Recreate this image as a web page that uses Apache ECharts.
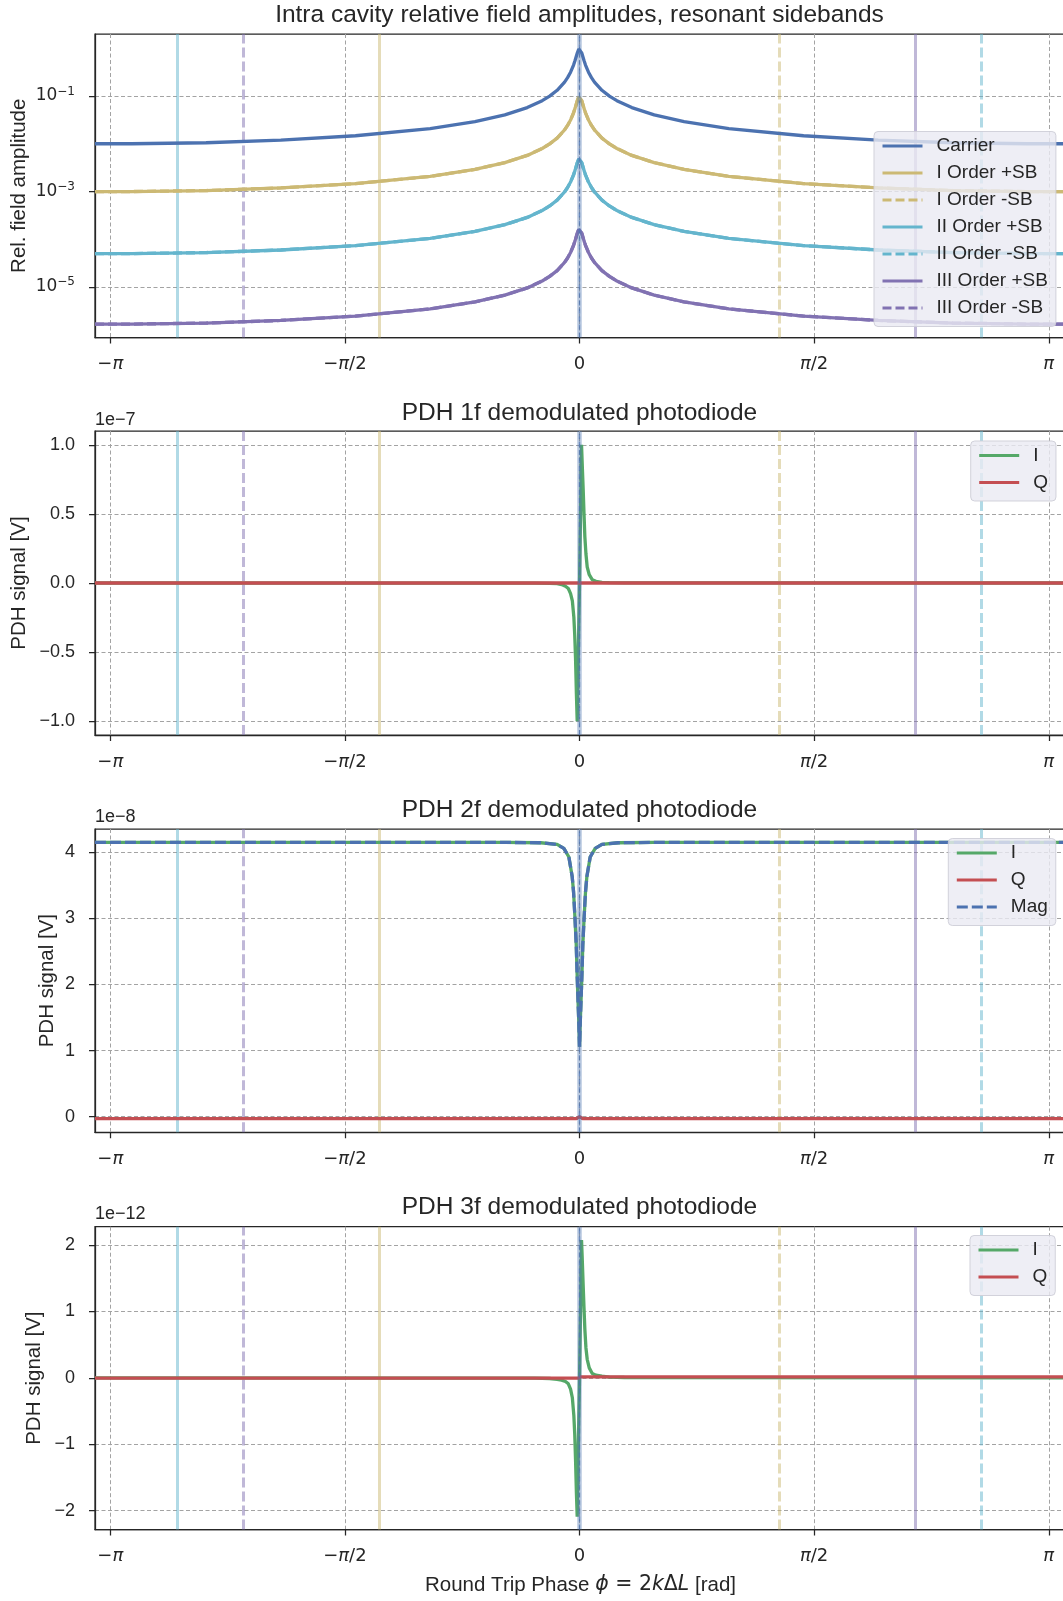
<!DOCTYPE html>
<html><head><meta charset="utf-8">
<script src="https://cdn.jsdelivr.net/npm/echarts@6/dist/echarts.min.js"></script>
<style>html,body{margin:0;padding:0;background:#fff}#c{width:1063px;height:1601px}</style>
</head><body><div id="c"></div>
<script>
// ---------------- DATA ----------------
// Panel 1: intra cavity relative field amplitudes (log scale)
const PHASE_TOP = [-3.244,-3.0,-2.5,-2.0,-1.5,-1.0,-0.7,-0.5,-0.35,-0.25,-0.2,-0.15,-0.1,-0.08,-0.06,-0.04,-0.03,-0.015,-0.005,0,
                   0.005,0.015,0.03,0.04,0.06,0.08,0.1,0.15,0.2,0.25,0.35,0.5,0.7,1.0,1.5,2.0,2.5,3.0,3.257];
const CARRIER = [0.0100,0.0100,0.0105,0.0119,0.0147,0.0208,0.0291,0.0404,0.0573,0.0800,0.0997,0.132,0.196,0.243,0.316,0.447,0.555,0.80,0.97,1.0,
                 0.97,0.80,0.555,0.447,0.316,0.243,0.196,0.132,0.0997,0.0800,0.0573,0.0404,0.0291,0.0208,0.0147,0.0119,0.0105,0.0100,0.0100];
const ORDER1_SB = [0.000995,0.000995,0.001045,0.001184,0.001463,0.00207,0.0029,0.00402,0.0057,0.00796,0.00992,0.01313,0.0195,0.0242,0.03144,0.04448,0.0552,0.0796,0.0965,0.0995,
                   0.0965,0.0796,0.0552,0.04448,0.03144,0.0242,0.0195,0.01313,0.00992,0.00796,0.0057,0.00402,0.0029,0.00207,0.001463,0.001184,0.001045,0.000995,0.000995];
const ORDER2_SB = [4.98e-5,4.98e-5,5.23e-5,5.93e-5,7.32e-5,1.036e-4,1.449e-4,2.012e-4,2.854e-4,3.984e-4,4.965e-4,6.57e-4,9.76e-4,1.21e-3,1.574e-3,2.226e-3,2.764e-3,3.984e-3,4.83e-3,4.98e-3,
                   4.83e-3,3.984e-3,2.764e-3,2.226e-3,1.574e-3,1.21e-3,9.76e-4,6.57e-4,4.965e-4,3.984e-4,2.854e-4,2.012e-4,1.449e-4,1.036e-4,7.32e-5,5.93e-5,5.23e-5,4.98e-5,4.98e-5];
const ORDER3_SB = [1.66e-6,1.66e-6,1.743e-6,1.975e-6,2.44e-6,3.453e-6,4.83e-6,6.71e-6,9.51e-6,1.328e-5,1.655e-5,2.19e-5,3.254e-5,4.03e-5,5.25e-5,7.42e-5,9.21e-5,1.328e-4,1.61e-4,1.66e-4,
                   1.61e-4,1.328e-4,9.21e-5,7.42e-5,5.25e-5,4.03e-5,3.254e-5,2.19e-5,1.655e-5,1.328e-5,9.51e-6,6.71e-6,4.83e-6,3.453e-6,2.44e-6,1.975e-6,1.743e-6,1.66e-6,1.66e-6];
const TOP_NAMES = ['Carrier','I Order +SB','I Order -SB','II Order +SB','II Order -SB','III Order +SB','III Order -SB'];

// Resonance markers (phase, rad)
const CARRIER_X = 0;
const RES_NAMES = ['I +SB','I -SB','II +SB','II -SB','III +SB','III -SB'];
const RES_X = [-1.343, 1.343, -2.690, 2.690, 2.250, -2.250];

// Panel 2: PDH 1f (units of 1e-7 V)
const PHASE_1F = [-3.244,-0.3,-0.2,-0.15,-0.12,-0.094,-0.075,-0.06,-0.048,-0.038,-0.032,-0.0268,-0.021,-0.0156,0,
                  0.0134,0.018,0.0246,0.03,0.0357,0.043,0.0514,0.065,0.085,0.11,0.15,0.2,0.3,3.257];
const I_1F = [0,-0.001,-0.002,-0.005,-0.011,-0.024,-0.04,-0.077,-0.13,-0.247,-0.38,-0.54,-0.8,-1.0,0,
              1.0,0.86,0.673,0.5,0.334,0.21,0.116,0.06,0.024,0.012,0.005,0.002,0.001,0];
const PHASE_Q1F = [-3.244, 3.257];
const Q_1F = [0, 0];

// Panel 3: PDH 2f (units of 1e-8 V)
const PHASE_2F = [-3.244,-0.5,-0.26,-0.15,-0.105,-0.0714,-0.049,-0.04,-0.031,-0.022,-0.0156,-0.009,-0.0045,0,
                  0.0045,0.009,0.0156,0.022,0.031,0.04,0.049,0.0714,0.105,0.15,0.26,0.5,3.257];
const I_2F = [4.15,4.15,4.145,4.12,4.06,3.93,3.63,3.4,3.03,2.6,2.12,1.68,1.41,1.06,
              1.41,1.68,2.12,2.6,3.03,3.4,3.63,3.93,4.06,4.12,4.145,4.15,4.15];
const MAG_2F = [4.15,4.15,4.145,4.12,4.06,3.93,3.63,3.4,3.03,2.6,2.12,1.68,1.41,1.06,
                1.41,1.68,2.12,2.6,3.03,3.4,3.63,3.93,4.06,4.12,4.145,4.15,4.15];
const PHASE_Q2F = [-3.244,-0.02,0,0.02,3.257];
const Q_2F = [-0.03,-0.03,0,-0.03,-0.03];

// Panel 4: PDH 3f (units of 1e-12 V)
const PHASE_3F = [-3.244,-0.3,-0.2,-0.15,-0.12,-0.094,-0.075,-0.06,-0.048,-0.038,-0.032,-0.0268,-0.021,-0.0156,0,
                  0.0134,0.018,0.0246,0.03,0.0357,0.043,0.0514,0.065,0.085,0.11,0.15,0.2,0.3,3.257];
const I_3F = [0,-0.005,-0.01,-0.022,-0.035,-0.055,-0.09,-0.17,-0.3,-0.57,-0.85,-1.22,-1.72,-2.09,0,
              2.075,1.8,1.38,1.05,0.73,0.45,0.28,0.15,0.065,0.04,0.025,0.012,0.005,0];
const PHASE_Q3F = [-3.244,-0.01,0.01,3.257];
const Q_3F = [-0.005,-0.005,0.015,0.015];

// Ticks
const X_TICKS = [-Math.PI, -Math.PI/2, 0, Math.PI/2, Math.PI];
const X_TICK_LABELS = ['−{i|π}', '−{i|π}/2', '0', '{i|π}/2', '{i|π}'];
const Y1_TICKS = [1e-5, 1e-3, 1e-1];
const Y1_TICK_LABELS = ['10{s|−5}', '10{s|−3}', '10{s|−1}'];
const Y2_TICKS = [-1, -0.5, 0, 0.5, 1];
const Y2_TICK_LABELS = ['−1.0', '−0.5', '0.0', '0.5', '1.0'];
const Y3_TICKS = [0, 1, 2, 3, 4];
const Y3_TICK_LABELS = ['0', '1', '2', '3', '4'];
const Y4_TICKS = [-2, -1, 0, 1, 2];
const Y4_TICK_LABELS = ['−2', '−1', '0', '1', '2'];
const OFFSET_LABELS = ['1e−7', '1e−8', '1e−12'];
const PANEL_TITLES = ['Intra cavity relative field amplitudes, resonant sidebands',
  'PDH 1f demodulated photodiode', 'PDH 2f demodulated photodiode', 'PDH 3f demodulated photodiode'];
const X_NAME = 'Round Trip Phase {i|ϕ}{m| = 2}{i|k}{m|Δ}{i|L} [rad]';

// ---------------- STYLE / LAYOUT ----------------
const FONT = 'Liberation Sans';
const MATH = 'DejaVu Sans';
const TXT = '#262626';
const C = {blue:'#4C72B0', green:'#55A868', red:'#C44E52', purple:'#8172B2', yellow:'#CCB974', cyan:'#64B5CD'};
const GRIDS = [{top:34, height:303.5},{top:431, height:304},{top:829, height:303.3},{top:1226.7, height:302.9}];
const YRANGE = [[8.68e-7, 1.998],[-1.1, 1.1],[-0.236, 4.353],[-2.285, 2.276]];
const YNAME_GAP = [65, 65, 37.5, 50];
const XMIN = -3.244, XMAX = 3.257;
const LW = 3.3;

function pairs(xs, ys){ return xs.map((x,i)=>[x, ys[i]]); }
function fmt(ticks, labels){
  return function(v){
    for (let i=0;i<ticks.length;i++){
      if (Math.abs(ticks[i]-v) <= Math.abs(ticks[i])*1e-6 + 1e-9) return labels[i];
    }
    return '';
  };
}

const axisLineStyle = {color: TXT, width: 1.25};
const splitStyle = {color:'#a3a3a3', width:1, type:[4,2.5]};
const labelBase = {color: TXT, fontSize: 18, fontFamily: FONT};

const grid = GRIDS.map(g => ({left:95, right:-3, top:g.top, height:g.height, show:true,
  borderColor: TXT, borderWidth:1.25, backgroundColor:'transparent', containLabel:false, outerBoundsMode:'none'}));

const xAxis = GRIDS.map((g,i) => ({
  type:'value', gridIndex:i, min:XMIN, max:XMAX,
  axisLine:{show:true, onZero:false, lineStyle:axisLineStyle},
  axisTick:{show:true, length:6, lineStyle:axisLineStyle, customValues:X_TICKS},
  axisLabel:{color:TXT, fontSize:18, fontFamily:MATH, margin:18, customValues:X_TICKS, formatter:fmt(X_TICKS, X_TICK_LABELS),
    rich:{i:{fontStyle:'italic', fontFamily:MATH, fontSize:18, color:TXT}}},
  splitLine:{show:true, lineStyle:splitStyle},
  name: i===3 ? X_NAME : '',
  nameLocation:'middle', nameGap:45, nameMoveOverlap:false,
  nameTextStyle:{color:TXT, fontSize:20.5, fontFamily:FONT,
    rich:{i:{fontStyle:'italic', fontFamily:MATH, fontSize:20.5, color:TXT},
          m:{fontFamily:MATH, fontSize:20.5, color:TXT}}}
}));

const YT = [[Y1_TICKS,Y1_TICK_LABELS],[Y2_TICKS,Y2_TICK_LABELS],[Y3_TICKS,Y3_TICK_LABELS],[Y4_TICKS,Y4_TICK_LABELS]];
const Y_NAMES = ['Rel. field amplitude','PDH signal [V]','PDH signal [V]','PDH signal [V]'];
const yAxis = GRIDS.map((g,i) => ({
  type: i===0 ? 'log' : 'value', gridIndex:i, min:YRANGE[i][0], max:YRANGE[i][1],
  axisLine:{show:true, onZero:false, lineStyle:axisLineStyle},
  axisTick:{show:true, length:6, lineStyle:axisLineStyle, customValues:YT[i][0]},
  axisLabel:Object.assign({}, labelBase, {margin:20, customValues:YT[i][0], formatter:fmt(YT[i][0], YT[i][1]),
    fontFamily: i===0 ? MATH : FONT, fontSize: i===0 ? 17 : 18,
    rich:{s:{fontSize:12, fontFamily:MATH, color:TXT, padding:[0,0,9,0], verticalAlign:'bottom'}}}),
  splitLine:{show:true, lineStyle:splitStyle},
  minorTick:{show:false}, minorSplitLine:{show:false},
  name:Y_NAMES[i], nameLocation:'middle', nameGap:YNAME_GAP[i], nameMoveOverlap:false,
  nameTextStyle:{color:TXT, fontSize:20.5, fontFamily:FONT}
}));

// vertical resonance markers
const RES_STYLE = [
  {color:C.yellow, type:'solid'}, {color:C.yellow, type:[10,4]},
  {color:C.cyan, type:'solid'},   {color:C.cyan, type:[10,4]},
  {color:C.purple, type:'solid'}, {color:C.purple, type:[10,4]}
];
function resSeries(gi){
  return [{
    name:'_res'+gi, type:'line', xAxisIndex:gi, yAxisIndex:gi, data:[], silent:true,
    markLine:{silent:true, symbol:['none','none'], label:{show:false}, animation:false, z:1,
      data: RES_X.map((x,k)=>({name:RES_NAMES[k], xAxis:x,
        lineStyle:{color:RES_STYLE[k].color, type:RES_STYLE[k].type, width:3, opacity:0.5}}))}
  },{
    name:'_car'+gi, type:'line', xAxisIndex:gi, yAxisIndex:gi, data:[], silent:true,
    markLine:{silent:true, symbol:['none','none'], label:{show:false}, animation:false, z:10,
      data:[{xAxis:CARRIER_X, lineStyle:{color:C.blue, type:'solid', width:4.5, opacity:0.4}},
            {xAxis:CARRIER_X, lineStyle:{color:C.blue, type:[5,3], width:1.3, opacity:0.7}}]}
  }];
}
function line(name, gi, xs, ys, color, type){
  return {name, type:'line', xAxisIndex:gi, yAxisIndex:gi, data:pairs(xs, ys), symbol:'none', z:3,
    lineStyle:{color, width:LW, type:type||'solid'}, itemStyle:{color}, emphasis:{disabled:true}};
}

const series = [].concat(
  resSeries(0), resSeries(1), resSeries(2), resSeries(3),
  [
    line(TOP_NAMES[0], 0, PHASE_TOP, CARRIER, C.blue),
    line(TOP_NAMES[1], 0, PHASE_TOP, ORDER1_SB, C.yellow),
    line(TOP_NAMES[2], 0, PHASE_TOP, ORDER1_SB, C.yellow, [9,4]),
    line(TOP_NAMES[3], 0, PHASE_TOP, ORDER2_SB, C.cyan),
    line(TOP_NAMES[4], 0, PHASE_TOP, ORDER2_SB, C.cyan, [9,4]),
    line(TOP_NAMES[5], 0, PHASE_TOP, ORDER3_SB, C.purple),
    line(TOP_NAMES[6], 0, PHASE_TOP, ORDER3_SB, C.purple, [9,4]),
    line('I', 1, PHASE_1F, I_1F, C.green),
    line('Q', 1, PHASE_Q1F, Q_1F, C.red),
    line('I', 2, PHASE_2F, I_2F, C.green),
    line('Q', 2, PHASE_Q2F, Q_2F, C.red),
    line('Mag', 2, PHASE_2F, MAG_2F, C.blue, [11,4]),
    line('I', 3, PHASE_3F, I_3F, C.green),
    line('Q', 3, PHASE_Q3F, Q_3F, C.red)
  ]
);

function legend(names, left, top){
  return {data:names, orient:'vertical', left, top, itemWidth:40, itemHeight:14, itemGap:8,
    padding:[5,8,9,7], backgroundColor:'rgba(234,234,242,0.8)', borderColor:'rgba(205,205,215,0.9)',
    borderWidth:1, borderRadius:4, selectedMode:false,
    itemStyle:{opacity:0, borderWidth:0},
    lineStyle:{width:3},
    textStyle:{fontSize:19, color:TXT, fontFamily:FONT, padding:[0,0,0,9]}};
}
const legends = [
  legend(TOP_NAMES, 874, 131.5),
  legend(['I','Q'], 970.7, 441),
  legend(['I','Q','Mag'], 948.3, 838.5),
  legend(['I','Q'], 970, 1235.5)
];

const TITLE_Y = [14.8, 413, 810.5, 1207.5];
const OFFSET_Y = [420, 817, 1214];
const graphic = PANEL_TITLES.map((t,i)=>({type:'text', x:579.5, y:TITLE_Y[i], silent:true,
    style:{text:t, fill:TXT, font:'24.5px "Liberation Sans"', align:'center', verticalAlign:'middle'}}))
  .concat(OFFSET_LABELS.map((t,i)=>({type:'text', x:95, y:OFFSET_Y[i], silent:true,
    style:{text:t, fill:TXT, font:'18px "Liberation Sans"', align:'left', verticalAlign:'middle'}})));

const chart = echarts.init(document.getElementById('c'), null, {renderer:'canvas'});
chart.setOption({
  animation:false, backgroundColor:'#ffffff',
  textStyle:{fontFamily:FONT},
  grid, xAxis, yAxis, series, legend:legends, graphic
});
</script></body></html>
